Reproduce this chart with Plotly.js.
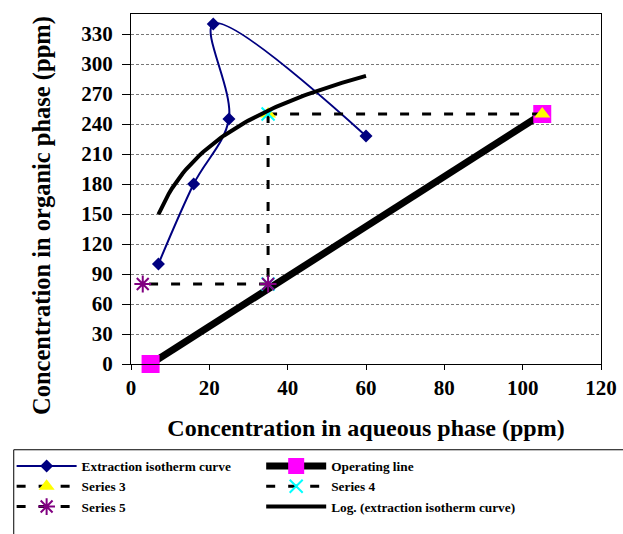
<!DOCTYPE html>
<html>
<head>
<meta charset="utf-8">
<script src="https://cdn.plot.ly/plotly-3.0.1.min.js"></script>
<style>html,body{margin:0;padding:0;background:#fff;}#chart{width:623px;height:534px;}</style>
</head>
<body>
<div id="chart"></div>
<script>
// Data
var isoX = [7, 16, 25, 21, 60];
var isoY = [100, 180, 245, 340, 228];
var opX = [5, 105];
var opY = [0, 250];
var s3X = [35, 105];
var s3Y = [250, 250];
var s4X = [35, 35];
var s4Y = [250, 80];
var s5X = [35, 3];
var s5Y = [80, 80];
var yTicks = [0, 30, 60, 90, 120, 150, 180, 210, 240, 270, 300, 330];
var xTicks = [0, 20, 40, 60, 80, 100, 120];

// Logarithmic trendline (least squares y = a ln x + b) of the isotherm data
var n = isoX.length, lx = isoX.map(Math.log);
var mx = lx.reduce(function(s,v){return s+v;},0)/n;
var my = isoY.reduce(function(s,v){return s+v;},0)/n;
var sxy = 0, sxx = 0;
for (var i = 0; i < n; i++) { sxy += (lx[i]-mx)*(isoY[i]-my); sxx += (lx[i]-mx)*(lx[i]-mx); }
var a = sxy/sxx, b = my - a*mx;
var xmin = Math.min.apply(null, isoX), xmax = Math.max.apply(null, isoX);
var logX = [], logY = [];
for (var k = 0; k <= 60; k++) { var xv = xmin + (xmax-xmin)*k/60; logX.push(xv); logY.push(a*Math.log(xv)+b); }

var FONT = "Liberation Serif, Times New Roman, serif";
var dashPat = "9px,13px";

var traces = [
  {x: isoX, y: isoY, name: "Extraction isotherm curve", mode: "lines+markers",
   legend: "legend", legendrank: 1,
   line: {color: "#000080", width: 2, shape: "spline", smoothing: 1},
   marker: {symbol: "diamond", size: 10, color: "#000080"}, cliponaxis: false},
  {x: opX, y: opY, name: "Operating line", mode: "lines+markers",
   legend: "legend2", legendrank: 1,
   line: {color: "#000000", width: 7},
   marker: {symbol: "square", size: 18, color: "#ff00ff"}, cliponaxis: false},
  {x: s3X, y: s3Y, name: "Series 3", mode: "lines+markers",
   legend: "legend", legendrank: 2,
   line: {color: "#000000", width: 3, dash: dashPat},
   marker: {symbol: "triangle-up", size: 14, color: "#ffff00"}, cliponaxis: false},
  {x: s4X, y: s4Y, name: "Series 4", mode: "lines+markers",
   legend: "legend2", legendrank: 2,
   line: {color: "#000000", width: 3, dash: dashPat},
   marker: {symbol: "x-thin-open", size: 13, color: "#00ffff", line: {color: "#00ffff", width: 2}}, cliponaxis: false},
  {x: s5X, y: s5Y, name: "Series 5", mode: "lines+markers",
   legend: "legend", legendrank: 3,
   line: {color: "#000000", width: 3, dash: dashPat},
   marker: {symbol: "asterisk-open", size: 14, color: "#800080", line: {color: "#800080", width: 2}}, cliponaxis: false},
  {x: logX, y: logY, name: "Log. (extraction isotherm curve)", mode: "lines",
   legend: "legend2", legendrank: 3,
   line: {color: "#000000", width: 4}}
];
traces.forEach(function(t){ t.name = "<b>" + t.name + "</b>"; });

var legendBase = {
  orientation: "v", yanchor: "top", y: -0.248, xanchor: "left",
  bgcolor: "rgba(0,0,0,0)", borderwidth: 0,
  font: {family: FONT, size: 13.3, color: "#000"},
  tracegroupgap: 0, itemwidth: 60, traceorder: "normal"
};

var layout = {
  width: 623, height: 534,
  margin: {l: 128, r: 22, t: 14, b: 169},
  paper_bgcolor: "#ffffff", plot_bgcolor: "#ffffff",
  font: {family: FONT, color: "#000000"},
  showlegend: true,
  xaxis: {
    range: [0, 120], tickvals: xTicks, ticktext: xTicks.map(function(v){return "<b>"+v+"</b>";}),
    showgrid: false, zeroline: false, showline: true, linecolor: "#000", linewidth: 1, mirror: true,
    ticks: "outside", ticklen: 5, tickcolor: "#000",
    tickfont: {family: FONT, size: 21, color: "#000"},
    title: {text: "<b>Concentration in aqueous phase (ppm)</b>", font: {family: FONT, size: 24, color: "#000"}, standoff: 19}
  },
  yaxis: {
    range: [0, 350], tickvals: yTicks, ticktext: yTicks.map(function(v){return "<b>"+v+"</b>";}),
    showgrid: true, gridcolor: "#777", gridwidth: 1, griddash: "3px,2px",
    zeroline: false, showline: true, linecolor: "#000", linewidth: 1, mirror: true,
    ticks: "outside", ticklen: 8, tickcolor: "#000", ticklabelstandoff: 5,
    tickfont: {family: FONT, size: 21, color: "#000"}
  },
  annotations: [{
    text: "<b>Concentration in organic phase (ppm)</b>",
    xref: "paper", yref: "paper", x: (39 - 128) / 473, y: (365 - 216) / 351,
    xanchor: "center", yanchor: "middle", textangle: -90, showarrow: false,
    font: {family: FONT, size: 24.5, color: "#000"}
  }],
  legend: Object.assign({}, legendBase, {x: -0.254}),
  legend2: Object.assign({}, legendBase, {x: 0.277}),
  shapes: [{
    type: "rect", xref: "paper", yref: "paper",
    x0: -0.2495, x1: 1.06, y0: -0.245, y1: -0.52,
    line: {color: "#000", width: 1}, fillcolor: "rgba(0,0,0,0)", layer: "below"
  }]
};

Plotly.newPlot("chart", traces, layout, {displayModeBar: false, staticPlot: true});
</script>
</body>
</html>
